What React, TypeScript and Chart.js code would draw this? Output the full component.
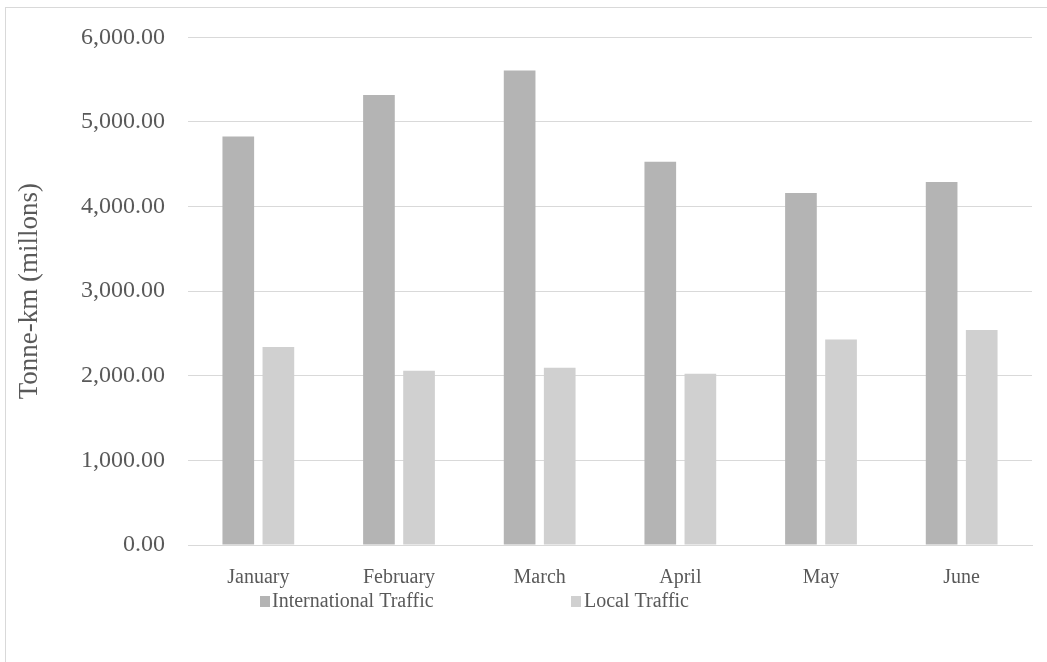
import React, { useEffect, useRef } from "react";
import { Chart, registerables } from "chart.js";

Chart.register(...registerables);

const months = ["January", "February", "March", "April", "May", "June"];
const internationalTraffic = [4830, 5320, 5610, 4530, 4160, 4290];
const localTraffic = [2340, 2060, 2095, 2025, 2430, 2540];
const yTicks = [0, 1000, 2000, 3000, 4000, 5000, 6000];

const FONT = "'Liberation Serif', 'Times New Roman', serif";
const TEXT = "#595959";

const legendPlugin = {
  id: "excelLegend",
  afterDraw(chart: any) {
    const ctx = chart.ctx;
    const items = [
      { x: 260, textX: 272 },
      { x: 571, textX: 584 },
    ];
    ctx.save();
    ctx.font = `20px ${FONT}`;
    ctx.textBaseline = "middle";
    ctx.textAlign = "left";
    chart.data.datasets.forEach((ds: any, i: number) => {
      const it = items[i];
      const cy = 602;
      ctx.fillStyle = ds.backgroundColor;
      ctx.fillRect(it.x, cy - 6, 10, 11);
      ctx.fillStyle = TEXT;
      ctx.fillText(ds.label, it.textX, cy);
    });
    ctx.restore();
  },
};

export default function App() {
  const ref = useRef<HTMLCanvasElement>(null);
  useEffect(() => {
    if (!ref.current) return;
    const chart = new Chart(ref.current, {
      type: "bar",
      data: {
        labels: months,
        datasets: [
          {
            label: "International Traffic",
            data: internationalTraffic,
            backgroundColor: "#b4b4b4",
            categoryPercentage: 0.57,
            barPercentage: 0.79,
          },
          {
            label: "Local Traffic",
            data: localTraffic,
            backgroundColor: "#d0d0d0",
            categoryPercentage: 0.57,
            barPercentage: 0.79,
          },
        ],
      },
      options: {
        animation: false,
        responsive: false,
        maintainAspectRatio: false,
        layout: { padding: { top: 35, right: 15, bottom: 55, left: 0 } },
        plugins: {
          legend: { display: false },
          tooltip: { enabled: false },
        },
        scales: {
          x: {
            grid: { display: false, drawTicks: false },
            border: { display: true, color: "#d9d9d9", width: 1 },
            ticks: {
              color: TEXT,
              font: { family: FONT, size: 20 },
              padding: 21,
              maxRotation: 0,
            },
            afterFit(scale: any) {
              scale.height = 62;
            },
          },
          y: {
            min: 0,
            max: 6000,
            afterBuildTicks(scale: any) {
              scale.ticks = yTicks.map((v) => ({ value: v }));
            },
            grid: { color: "#d9d9d9", drawTicks: false },
            border: { display: false },
            ticks: {
              color: TEXT,
              font: { family: FONT, size: 24 },
              padding: 23,
              callback: (v: any) =>
                Number(v).toLocaleString("en-US", {
                  minimumFractionDigits: 2,
                  maximumFractionDigits: 2,
                }),
            },
            title: {
              display: true,
              text: "Tonne-km (millons)",
              color: TEXT,
              font: { family: FONT, size: 27 },
              padding: { top: 14, bottom: 0 },
            },
            afterFit(scale: any) {
              scale.width = 188;
            },
          },
        },
      },
      plugins: [legendPlugin],
    });
    return () => chart.destroy();
  }, []);

  return (
    <div
      style={{
        position: "fixed",
        left: 0,
        top: 0,
        width: 1047,
        height: 662,
        background: "#fff",
        overflow: "hidden",
      }}
    >
      <div
        style={{
          position: "absolute",
          left: 5,
          top: 7,
          width: 1060,
          height: 680,
          border: "1px solid #d9d9d9",
        }}
      />
      <canvas
        ref={ref}
        width={1047}
        height={662}
        style={{ position: "absolute", left: 0, top: 0, width: 1047, height: 662 }}
      />
    </div>
  );
}
